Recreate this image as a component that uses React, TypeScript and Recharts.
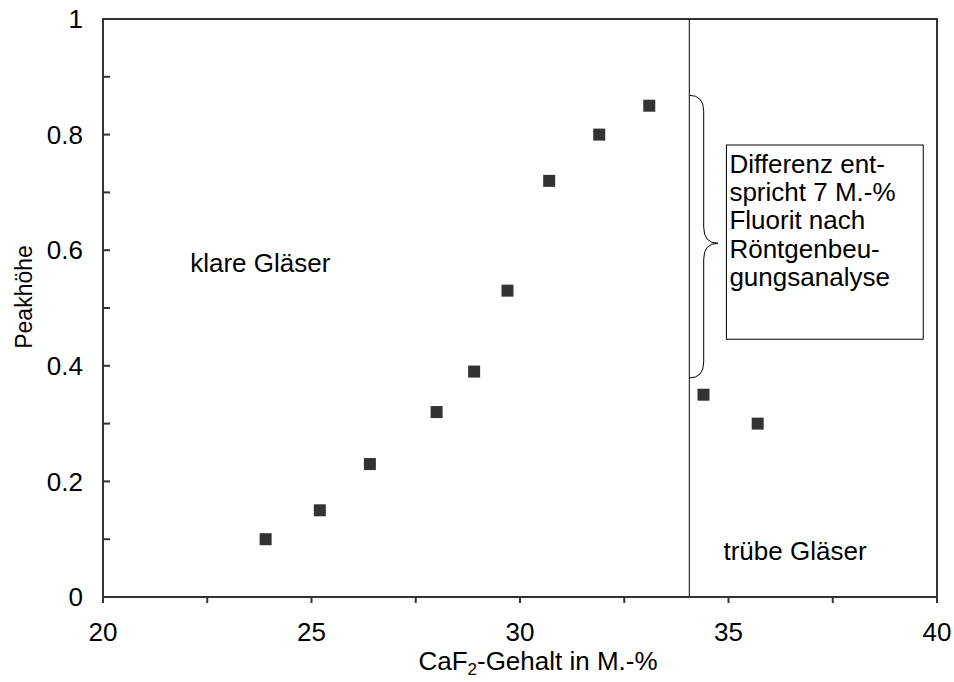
import React from 'react';
import {
  ScatterChart,
  Scatter,
  XAxis,
  YAxis,
  ReferenceLine,
  ReferenceArea,
  ReferenceDot,
  Label,
} from 'recharts';

// CaF2 content (M.-%) and measured peak height
const caf2Content = [23.9, 25.2, 26.4, 28.0, 28.9, 29.7, 30.7, 31.9, 33.1, 34.4, 35.7];
const peakHeight = [0.1, 0.15, 0.23, 0.32, 0.39, 0.53, 0.72, 0.8, 0.85, 0.35, 0.3];

const xTicks = [20, 22.5, 25, 27.5, 30, 32.5, 35, 37.5, 40];
const yTicks = [0, 0.1, 0.2, 0.3, 0.4, 0.5, 0.6, 0.7, 0.8, 0.9, 1];

// boundary clear / turbid glasses
const boundaryX = 34.06;
// brace spans the drop in peak height
const braceX = [34.06, 34.75];
const braceY = [0.379, 0.868];
const braceTip = 0.612;
// note box
const noteBoxX = [34.95, 39.67];
const noteBoxY = [0.446, 0.782];
const noteLines = ['Differenz ent-', 'spricht 7 M.-%', 'Fluorit nach', 'Röntgenbeu-', 'gungsanalyse'];
const clearLabel = { x: 22.09, y: 0.562, text: 'klare Gläser' };
const turbidLabel = { x: 34.88, y: 0.064, text: 'trübe Gläser' };

const FONT = '"Liberation Sans", Arial, sans-serif';
const FS = 26;
const AXIS = '#333333';

const data = caf2Content.map((x, i) => ({ x, y: peakHeight[i] }));

const SquareDot = (props: any) => {
  const { cx, cy } = props;
  if (cx == null || cy == null) return null;
  return <rect x={cx - 6} y={cy - 6} width={12} height={12} fill="#333333" />;
};

const Brace = (props: any) => {
  const { x, y, width, height } = props;
  const mid = x + width * 0.5;
  const frac = (braceY[1] - braceTip) / (braceY[1] - braceY[0]);
  const ty = y + height * frac;
  const r = 16;
  const d = [
    `M ${x} ${y}`,
    `Q ${mid} ${y} ${mid} ${y + r}`,
    `L ${mid} ${ty - r}`,
    `Q ${mid} ${ty} ${x + width} ${ty}`,
    `Q ${mid} ${ty} ${mid} ${ty + r}`,
    `L ${mid} ${y + height - r}`,
    `Q ${mid} ${y + height} ${x} ${y + height}`,
  ].join(' ');
  return <path d={d} fill="none" stroke="#000" strokeWidth={1} />;
};

const NoteBox = (props: any) => {
  const { x, y, width, height } = props;
  return (
    <g>
      <rect x={x} y={y} width={width} height={height} fill="#fff" stroke="#000" strokeWidth={1} />
      <text fontFamily={FONT} fontSize={FS} fill="#000">
        {noteLines.map((line, i) => (
          <tspan key={i} x={x + 3} y={y + 28 + i * 28.2}>
            {line}
          </tspan>
        ))}
      </text>
    </g>
  );
};

const textDot = (text: string) => (props: any) => (
  <text x={props.cx} y={props.cy} fontFamily={FONT} fontSize={FS} fill="#000">
    {text}
  </text>
);

export default function App() {
  return (
    <div style={{ width: 954, height: 682, background: '#fff' }}>
      <style>{'body{margin:0;}'}</style>
      <ScatterChart width={954} height={682} margin={{ top: 19, right: 17, bottom: 0, left: 0 }}>
        <XAxis
          type="number"
          dataKey="x"
          domain={[20, 40]}
          ticks={xTicks}
          allowDataOverflow
          height={85}
          stroke={AXIS}
          strokeWidth={2}
          tickSize={6}
          tickMargin={20}
          tick={{ fill: '#000', fontSize: FS, fontFamily: FONT }}
          tickFormatter={(v: number) => (v % 5 === 0 ? String(v) : '')}
        >
          <Label
            content={(p: any) => {
              const vb = p.viewBox;
              return (
                <text
                  x={vb.x + vb.width / 2 + 18}
                  y={670}
                  textAnchor="middle"
                  fontFamily={FONT}
                  fontSize={FS}
                  fill="#000"
                >
                  <tspan>CaF</tspan>
                  <tspan fontSize={17} dy={5}>2</tspan>
                  <tspan dy={-5}>-Gehalt in M.-%</tspan>
                </text>
              );
            }}
          />
        </XAxis>
        <YAxis
          type="number"
          dataKey="y"
          domain={[0, 1]}
          ticks={yTicks}
          allowDataOverflow
          width={103}
          stroke={AXIS}
          strokeWidth={2}
          tickSize={-7}
          tickMargin={27}
          tick={{ fill: '#000', fontSize: FS, fontFamily: FONT }}
          tickFormatter={(v: number) => (Math.round(v * 10) % 2 === 0 ? String(v) : '')}
        >
          <Label
            content={(p: any) => {
              const vb = p.viewBox;
              const cy = vb.y + vb.height / 2 - 11;
              return (
                <text
                  x={32}
                  y={cy}
                  textAnchor="middle"
                  transform={`rotate(-90, 32, ${cy})`}
                  fontFamily={FONT}
                  fontSize={23}
                  fill="#000"
                >
                  Peakhöhe
                </text>
              );
            }}
          />
        </YAxis>
        <ReferenceArea x1={20} x2={40} y1={0} y2={1} fill="none" stroke={AXIS} strokeWidth={2} />
        <ReferenceLine x={boundaryX} stroke="#000" strokeWidth={1} />
        <ReferenceArea
          x1={braceX[0]}
          x2={braceX[1]}
          y1={braceY[0]}
          y2={braceY[1]}
          shape={Brace}
        />
        <ReferenceArea
          x1={noteBoxX[0]}
          x2={noteBoxX[1]}
          y1={noteBoxY[0]}
          y2={noteBoxY[1]}
          shape={NoteBox}
        />
        <ReferenceDot x={clearLabel.x} y={clearLabel.y} r={1} shape={textDot(clearLabel.text)} />
        <ReferenceDot x={turbidLabel.x} y={turbidLabel.y} r={1} shape={textDot(turbidLabel.text)} />
        <Scatter data={data} shape={SquareDot} isAnimationActive={false} />
      </ScatterChart>
    </div>
  );
}
